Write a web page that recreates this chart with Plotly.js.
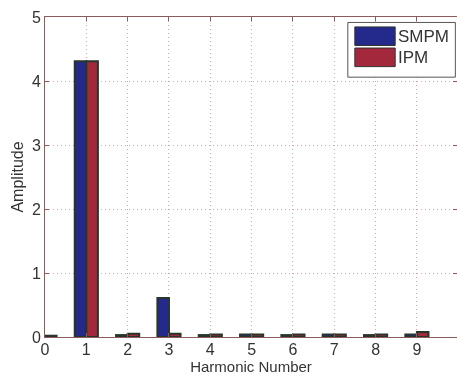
<!DOCTYPE html>
<html>
<head>
<meta charset="utf-8">
<script src="https://cdn.plot.ly/plotly-3.0.1.min.js"></script>
<style>
  html, body { margin: 0; padding: 0; background: #fff; }
  #chart { width: 457px; height: 375px; filter: blur(0.4px); }
</style>
</head>
<body>
<div id="chart"></div>
<script>
// Harmonic spectrum of the back-EMF for the two machine types
const harmonics = [0, 1, 2, 3, 4, 5, 6, 7, 8, 9];
const smpmAmp   = [0.01, 4.31, 0.03, 0.61, 0.03, 0.04, 0.03, 0.04, 0.03, 0.04];
const ipmAmp    = [0.02, 4.31, 0.05, 0.05, 0.04, 0.04, 0.04, 0.04, 0.04, 0.08];
const seriesNames  = ['SMPM', 'IPM'];
const seriesColors = ['#232a8c', '#a3283c'];
const xTicks = [0, 1, 2, 3, 4, 5, 6, 7, 8, 9];
const yTicks = [0, 1, 2, 3, 4, 5];

const edge = { color: '#27352a', width: 2 };
const traces = [smpmAmp, ipmAmp].map((vals, i) => ({
  type: 'bar',
  x: harmonics,
  y: vals,
  name: seriesNames[i],
  marker: { color: seriesColors[i], line: edge },
  showlegend: false,
  hoverinfo: 'x+y+name'
}));

const font = { family: 'Liberation Sans, Arial, sans-serif', size: 16, color: '#333' };
const axisCommon = {
  showline: true, linecolor: '#8c5c5c', linewidth: 1, mirror: 'ticks',
  ticks: 'inside', ticklen: 4, tickcolor: '#8c5c5c',
  showgrid: true, gridcolor: '#d9a6a6', griddash: '1px,3px', gridwidth: 1,
  zeroline: false, tickfont: font, automargin: false
};

// Legend box with wide colour swatches
const shapes = [
  { type: 'rect', xref: 'paper', yref: 'paper', x0: 0.735, x1: 0.996, y0: 0.812, y1: 0.983,
    line: { color: '#555', width: 1 }, fillcolor: '#fff', layer: 'above' }
];
const annotations = [];
seriesNames.forEach((nm, i) => {
  const yTop = 0.969 - i * 0.066;
  shapes.push({ type: 'rect', xref: 'paper', yref: 'paper', x0: 0.752, x1: 0.85,
    y0: yTop - 0.058, y1: yTop, fillcolor: seriesColors[i],
    line: { color: '#333', width: 1 }, layer: 'above' });
  annotations.push({ xref: 'paper', yref: 'paper', x: 0.853, y: yTop - 0.029,
    xanchor: 'left', yanchor: 'middle', text: nm, showarrow: false,
    font: Object.assign({}, font, { size: 17 }) });
});

const layout = {
  width: 457, height: 375,
  margin: { l: 45, r: 0, t: 17, b: 38 },
  paper_bgcolor: '#fff', plot_bgcolor: '#fff',
  barmode: 'group', bargap: 0.44, bargroupgap: 0,
  font: font,
  xaxis: Object.assign({}, axisCommon, {
    range: [0, 9.97], tickvals: xTicks, ticktext: xTicks.map(String), ticklabelstandoff: -2,
    title: { text: 'Harmonic Number', font: Object.assign({}, font, { size: 15 }), standoff: 9 }
  }),
  yaxis: Object.assign({}, axisCommon, {
    range: [0, 5], tickvals: yTicks, ticktext: yTicks.map(String),
    title: { text: 'Amplitude', font: font, standoff: 4 }
  }),
  shapes: shapes,
  annotations: annotations
};

Plotly.newPlot('chart', traces, layout, { displayModeBar: false, staticPlot: true });
</script>
</body>
</html>
